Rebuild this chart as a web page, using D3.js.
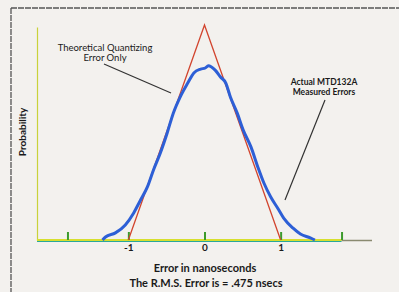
<!DOCTYPE html>
<html>
<head>
<meta charset="utf-8">
<script src="https://cdn.jsdelivr.net/npm/d3@7"></script>
<style>
  body { margin: 0; background: #f3f1ee; }
  svg { display: block; }
  text { font-family: Lato, "Liberation Sans", sans-serif; fill: #1a1a1a; }
</style>
</head>
<body>
<div id="chart"></div>
<script>
// theoretical quantizing error (triangle)
var theoryX = [-1, 0, 1];
var theoryP = [0, 1, 0];

// measured MTD132A error distribution
var measuredX = [-1.34, -1.30, -1.17, -1.04, -0.93, -0.84, -0.75, -0.67, -0.58, -0.49, -0.41, -0.32, -0.22, -0.14, -0.05, 0.01, 0.05, 0.14, 0.21, 0.28, 0.34, 0.43, 0.51, 0.61, 0.70, 0.78, 0.87, 0.96, 1.04, 1.16, 1.26, 1.39, 1.45];
var measuredP = [0, 0.014, 0.033, 0.07, 0.126, 0.186, 0.247, 0.326, 0.405, 0.498, 0.59, 0.665, 0.73, 0.777, 0.795, 0.80, 0.81, 0.79, 0.758, 0.73, 0.665, 0.59, 0.51, 0.433, 0.34, 0.265, 0.20, 0.149, 0.102, 0.056, 0.028, 0.01, 0];

var tickValues = [-1.8, -1, 0, 1, 1.8];
var tickLabels = {"-1": "-1", "0": "0", "1": "1"};

var width = 399, height = 292;

var svg = d3.select("#chart")
  .append("svg")
  .attr("width", width)
  .attr("height", height);

// frame
svg.append("line")
  .attr("x1", 11).attr("y1", 8).attr("x2", width).attr("y2", 8)
  .attr("stroke", "#555").attr("stroke-width", 1.3).attr("stroke-dasharray", "6,1");
svg.append("line")
  .attr("x1", 11).attr("y1", 8).attr("x2", 11).attr("y2", height)
  .attr("stroke", "#555").attr("stroke-width", 1.3).attr("stroke-dasharray", "6,1");

var x = d3.scaleLinear().domain([-2.2, 2.2]).range([37, 372]);
var y = d3.scaleLinear().domain([0, 1]).range([240, 25]);

// y axis (no ticks)
var gY = svg.append("g")
  .attr("transform", "translate(" + x(-2.2) + ",0)")
  .call(d3.axisLeft(d3.scaleLinear().range([240, 27])).tickValues([]).tickSizeOuter(0));
gY.select(".domain").attr("stroke", "#c9d23a").attr("stroke-width", 1.2);

// tail of baseline past the last tick
svg.append("line")
  .attr("x1", x(1.8)).attr("x2", x(2.2))
  .attr("y1", y(0) + 0.5).attr("y2", y(0) + 0.5)
  .attr("stroke", "#8a8a70").attr("stroke-width", 1.5);

// teal under-line of the baseline
svg.append("line")
  .attr("x1", x(-2.2)).attr("x2", x(1.8))
  .attr("y1", y(0) + 1.2).attr("y2", y(0) + 1.2)
  .attr("stroke", "#2aa89a").attr("stroke-width", 1.6);

// x axis
var xAxis = d3.axisBottom(x)
  .tickValues(tickValues)
  .tickSize(-8)
  .tickSizeOuter(0)
  .tickPadding(4)
  .tickFormat(function(d) { return tickLabels[d] || ""; });

var gX = svg.append("g")
  .attr("transform", "translate(0," + y(0) + ")")
  .call(xAxis);
gX.select(".domain")
  .attr("d", "M" + x(-2.2) + ",0H" + x(1.8))
  .attr("stroke", "#d7df2e").attr("stroke-width", 2);
gX.selectAll(".tick line").attr("stroke", "#3c9a2c").attr("stroke-width", 2);
gX.selectAll(".tick text")
  .attr("font-size", "10px").attr("font-weight", "bold")
  .style("font-family", "Lato, sans-serif").attr("fill", "#1a1a1a");

// theoretical triangle
var theory = theoryX.map(function(d, i) { return {x: d, p: theoryP[i]}; });
svg.append("path")
  .datum(theory)
  .attr("fill", "none")
  .attr("stroke", "#d2452f")
  .attr("stroke-width", 1.3)
  .attr("d", d3.line().x(function(d) { return x(d.x); }).y(function(d) { return y(d.p); }));

// measured curve
var measured = measuredX.map(function(d, i) { return {x: d, p: measuredP[i]}; });
svg.append("path")
  .datum(measured)
  .attr("fill", "none")
  .attr("stroke", "#2d5fd6")
  .attr("stroke-width", 3)
  .attr("stroke-linejoin", "round")
  .attr("d", d3.line().curve(d3.curveMonotoneX).x(function(d) { return x(d.x); }).y(function(d) { return y(d.p); }));

// annotations
svg.append("text").attr("x", 105).attr("y", 51).attr("text-anchor", "middle")
  .attr("font-size", "9.5px").text("Theoretical Quantizing");
svg.append("text").attr("x", 105).attr("y", 61).attr("text-anchor", "middle")
  .attr("font-size", "9.5px").text("Error Only");
svg.append("line")
  .attr("x1", 104).attr("y1", 64).attr("x2", 171).attr("y2", 93)
  .attr("stroke", "#333").attr("stroke-width", 1.2);

svg.append("text").attr("x", 324).attr("y", 85).attr("text-anchor", "middle")
  .attr("font-size", "8.5px").attr("font-weight", "bold").text("Actual MTD132A");
svg.append("text").attr("x", 324).attr("y", 95).attr("text-anchor", "middle")
  .attr("font-size", "8.5px").attr("font-weight", "bold").text("Measured Errors");
svg.append("line")
  .attr("x1", 325).attr("y1", 100).attr("x2", 285).attr("y2", 200)
  .attr("stroke", "#333").attr("stroke-width", 1.2);

// axis titles
svg.append("text")
  .attr("transform", "translate(26,132) rotate(-90)")
  .attr("text-anchor", "middle")
  .attr("font-size", "10px").attr("font-weight", "bold")
  .text("Probability");

svg.append("text").attr("x", 205).attr("y", 272).attr("text-anchor", "middle")
  .attr("font-size", "11px").attr("font-weight", "bold").text("Error in nanoseconds");
svg.append("text").attr("x", 206).attr("y", 287).attr("text-anchor", "middle")
  .attr("font-size", "11px").attr("font-weight", "bold").text("The R.M.S. Error is = .475 nsecs");
</script>
</body>
</html>
